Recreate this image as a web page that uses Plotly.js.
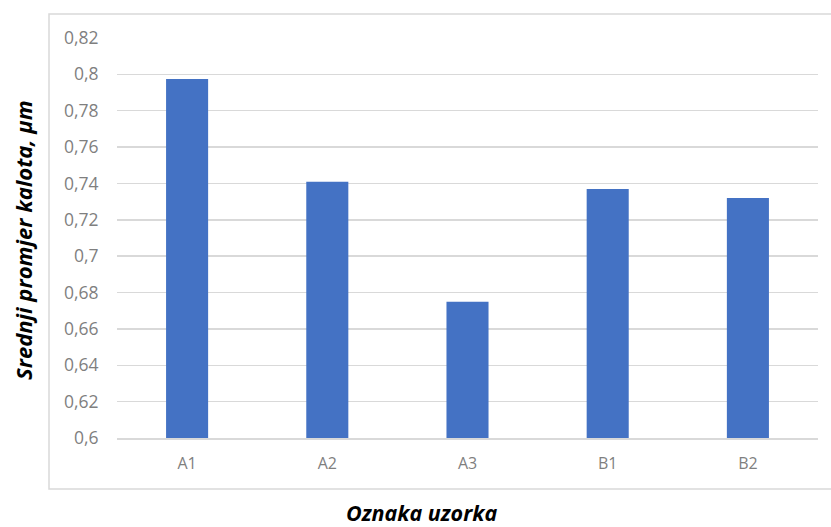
<!DOCTYPE html>
<html>
<head>
<meta charset="utf-8">
<script src="https://cdn.plot.ly/plotly-3.0.1.min.js"></script>
<style>html,body{margin:0;padding:0;background:#fff;}#chart{width:831px;height:527px;}</style>
</head>
<body>
<div id="chart"></div>
<script>
var categories = ["A1", "A2", "A3", "B1", "B2"];
var values = [0.7975, 0.741, 0.675, 0.737, 0.732];
var yTickVals = [0.6, 0.62, 0.64, 0.66, 0.68, 0.7, 0.72, 0.74, 0.76, 0.78, 0.8, 0.82];
var yTitle = "Srednji promjer kalota, μm";
var xTitle = "Oznaka uzorka";

var W = 831, H = 527, L = 117, R = 13, T = 38, B = 89;
var pw = W - L - R, ph = H - T - B;
function px(x) { return (x - L) / pw; }
function py(y) { return (H - B - y) / ph; }

var trace = {
  type: "bar",
  x: categories,
  y: values,
  marker: { color: "#4472c4" },
  hoverinfo: "x+y"
};

var layout = {
  width: W, height: H,
  margin: { l: L, r: R, t: T, b: B, pad: 0 },
  paper_bgcolor: "#ffffff",
  plot_bgcolor: "#ffffff",
  separators: ", ",
  bargap: 0.7,
  showlegend: false,
  font: { family: "Open Sans, Liberation Sans, sans-serif" },
  xaxis: {
    type: "category",
    showgrid: false,
    showline: true,
    linecolor: "#d9d9d9",
    linewidth: 1.5,
    ticks: "outside",
    ticklen: 10,
    tickcolor: "rgba(0,0,0,0)",
    tickfont: { size: 16, color: "#7f7f7f", family: "Open Sans, sans-serif" }
  },
  yaxis: {
    range: [0.6, 0.82],
    tickvals: yTickVals,
    showgrid: true,
    gridcolor: "#d9d9d9",
    gridwidth: 1.5,
    zeroline: false,
    showline: false,
    ticks: "outside",
    ticklen: 14,
    tickcolor: "rgba(0,0,0,0)",
    tickfont: { size: 17.5, color: "#7f7f7f", family: "Open Sans, sans-serif" }
  },
  shapes: [{
    type: "rect", xref: "paper", yref: "paper",
    x0: px(49), x1: px(840), y0: py(489), y1: py(14),
    line: { color: "#d9d9d9", width: 1.5 },
    fillcolor: "rgba(0,0,0,0)",
    layer: "below"
  }],
  annotations: [
    {
      text: "<b><i>" + yTitle + "</i></b>",
      xref: "paper", yref: "paper",
      x: px(23), y: py(240),
      textangle: -90, showarrow: false,
      xanchor: "center", yanchor: "middle",
      font: { size: 22, color: "#000000", family: "Open Sans, sans-serif" }
    },
    {
      text: "<b><i>" + xTitle + "</i></b>",
      xref: "paper", yref: "paper",
      x: px(421), y: py(512),
      showarrow: false,
      xanchor: "center", yanchor: "middle",
      font: { size: 21.5, color: "#000000", family: "Open Sans, sans-serif" }
    }
  ]
};

Plotly.newPlot("chart", [trace], layout, { displayModeBar: false, staticPlot: true });
</script>
</body>
</html>
